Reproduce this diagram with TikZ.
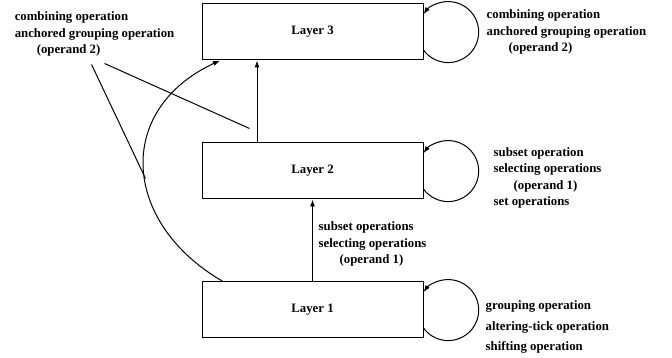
\documentclass[tikz,border=0pt]{standalone}
\usepackage{fontspec}
\setmainfont{Liberation Serif}
\usetikzlibrary{positioning, arrows.meta}
\newcommand{\OpF}{\fontsize{12.8}{16.5}\selectfont\bfseries}
\newcommand{\WideF}{\fontsize{12.8}{20.5}\selectfont\bfseries}

\begin{document}
\begin{tikzpicture}[x=1pt, y=1pt,
  layerbox/.style={draw, line width=1pt, minimum width=221pt, minimum height=56pt, font=\OpF},
  oplabel/.style={inner sep=0pt, align=left, font=\OpF},
  arr/.style={-{Latex[length=7pt,width=5pt]}, line width=1pt}]
  \useasboundingbox (0,0) rectangle (672,358);

  % the three layers
  \node[layerbox] (l3) at (312.5,326) {Layer 3};
  \node[layerbox, below=82pt of l3] (l2) {Layer 2};
  \node[layerbox, below=82pt of l2] (l1) {Layer 1};

  % operations on each layer
  \node[oplabel, right=63pt of l3] (ops3) {combining operation\\
    anchored grouping operation\\\hspace*{22pt}(operand 2)};
  \node[oplabel, right=70pt of l2, yshift=-7pt] (ops2) {subset operation\\
    selecting operations\\\hspace*{20pt}(operand 1)\\set operations};
  \node[oplabel, font=\WideF, right=62pt of l1, yshift=-17pt] (ops1) {grouping operation\\
    altering-tick operation\\shifting operation};
  \node[oplabel, below right=22pt and 6pt of l2.south] (up12) {subset operations\\
    selecting operations\\\hspace*{21pt}(operand 1)};
  \node[oplabel, left=27pt of l3, yshift=-2pt] (up13) {combining operation\\
    anchored grouping operation\\\hspace*{22pt}(operand 2)};

  % arrows between layers
  \draw[arr] (l1.north) -- (l2.south);
  \draw[arr] ([xshift=-55.5pt]l2.north) -- ([xshift=-55.5pt]l3.south);
  \draw[arr] ([xshift=-89.5pt]l1.north) to[out=150, in=205, looseness=1.35] ([xshift=-92.5pt]l3.south);

  % self loops
  \foreach \n in {l1,l2,l3}
    \draw[arr] ([yshift=-18pt]\n.east) arc[start angle=-144, end angle=144, radius=30.5pt];

  % pointers from the left label
  \coordinate (oncurve) at ([xshift=-56pt, yshift=-7.5pt]l2.west);
  \coordinate (onarrow) at ([xshift=48pt, yshift=14pt]l2.north west);
  \draw[line width=1pt] ([xshift=77pt, yshift=-8pt]up13.south west) -- (oncurve);
  \draw[line width=1pt] ([xshift=90pt, yshift=-7pt]up13.south west) -- (onarrow);
\end{tikzpicture}
\end{document}
